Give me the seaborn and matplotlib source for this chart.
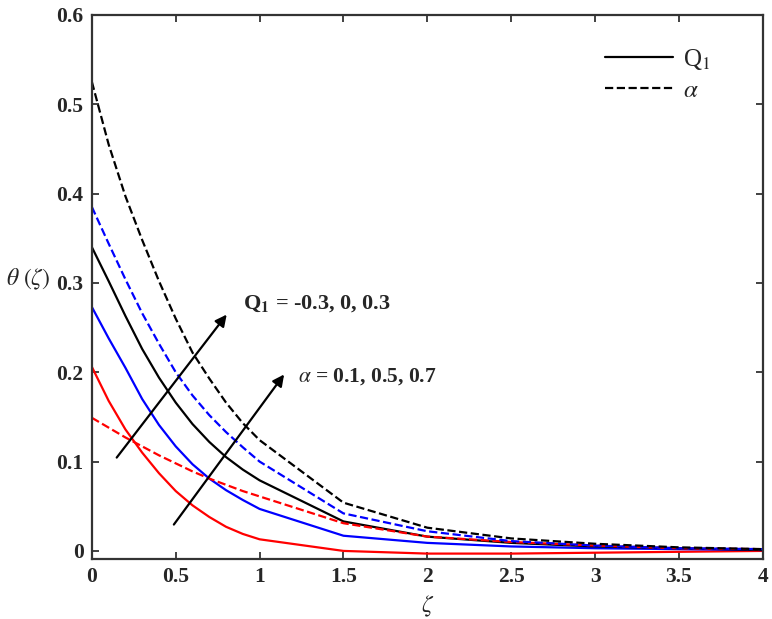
import numpy as np
import pandas as pd
import matplotlib
matplotlib.use('Agg')
import matplotlib.pyplot as plt
from matplotlib.lines import Line2D
import seaborn as sns

# zeta grid (fine up to 1, then coarse)
zeta = [0, 0.1, 0.2, 0.3, 0.4, 0.5, 0.6, 0.7, 0.8, 0.9, 1.0, 1.5, 2.0, 2.5, 3.0, 3.5, 4.0]

# Q1 curves (solid)
q1_red = [0.206, 0.168, 0.136, 0.110, 0.087, 0.067, 0.051, 0.038, 0.027, 0.019, 0.013,
          0.000, -0.003, -0.003, -0.002, -0.001, 0.000]
q1_blue = [0.273, 0.238, 0.205, 0.170, 0.141, 0.117, 0.097, 0.081, 0.068, 0.057, 0.047,
           0.017, 0.009, 0.005, 0.003, 0.002, 0.001]
q1_black = [0.340, 0.302, 0.263, 0.226, 0.194, 0.166, 0.142, 0.122, 0.105, 0.091, 0.079,
            0.033, 0.016, 0.009, 0.005, 0.003, 0.001]

# alpha curves (dashed)
al_red = [0.149, 0.138, 0.127, 0.117, 0.107, 0.098, 0.089, 0.081, 0.074, 0.067, 0.061,
          0.031, 0.016, 0.010, 0.006, 0.003, 0.002]
al_blue = [0.385, 0.344, 0.304, 0.266, 0.232, 0.200, 0.174, 0.152, 0.133, 0.116, 0.100,
           0.042, 0.022, 0.011, 0.006, 0.003, 0.002]
al_black = [0.525, 0.455, 0.397, 0.348, 0.302, 0.260, 0.222, 0.193, 0.166, 0.143, 0.124,
            0.054, 0.026, 0.014, 0.008, 0.004, 0.002]

xticks = [0, 0.5, 1, 1.5, 2, 2.5, 3, 3.5, 4]
xtick_labels = ['0', '0.5', '1', '1.5', '2', '2.5', '3', '3.5', '4']
yticks = [0, 0.1, 0.2, 0.3, 0.4, 0.5, 0.6]
ytick_labels = ['0', '0.1', '0.2', '0.3', '0.4', '0.5', '0.6']

sns.set_style('ticks')
plt.rcParams['font.family'] = ['Liberation Serif', 'DejaVu Serif']
plt.rcParams['mathtext.fontset'] = 'stix'

fig = plt.figure(figsize=(7.72, 6.19), dpi=100)
ax = fig.add_axes([0.119, 0.097, 0.869, 0.879])

curves = [
    (q1_red, 'red', '-'), (q1_blue, 'blue', '-'), (q1_black, 'black', '-'),
    (al_red, 'red', '--'), (al_blue, 'blue', '--'), (al_black, 'black', '--'),
]
for vals, col, ls in curves:
    sns.lineplot(x=zeta, y=vals, color=col, linestyle=ls, linewidth=1.6, ax=ax)

ax.set_xlim(0, 4)
ax.set_ylim(-0.009, 0.6)
ax.set_xticks(xticks)
ax.set_xticklabels(xtick_labels, fontsize=15.5, fontweight='bold')
ax.set_yticks(yticks)
ax.set_yticklabels(ytick_labels, fontsize=15.5, fontweight='bold')
ax.tick_params(direction='in', top=True, right=True, length=5, width=1.3,
               color='#333333', pad=6)
for s in ax.spines.values():
    s.set_linewidth(1.6)
    s.set_color('#333333')

ax.set_xlabel(r'$\zeta$', fontsize=17, labelpad=5)
ax.set_ylabel(r'$\theta\ (\zeta)$', fontsize=17, rotation=0)
ax.yaxis.set_label_coords(-0.095, 0.49)

# arrows and annotations
ax.annotate('', xy=(0.814, 0.267), xytext=(0.138, 0.102),
            arrowprops=dict(arrowstyle='-|>', color='black', lw=1.6, mutation_scale=17))
ax.annotate('', xy=(1.156, 0.200), xytext=(0.479, 0.027),
            arrowprops=dict(arrowstyle='-|>', color='black', lw=1.6, mutation_scale=17))
ax.text(0.90, 0.277, r'Q$_\mathbf{1}$ = -0.3, 0, 0.3', fontsize=16, fontweight='bold', va='center')
ax.text(1.23, 0.195, r'$\alpha$ = 0.1, 0.5, 0.7', fontsize=15.5, fontweight='bold', va='center')

handles = [Line2D([], [], color='black', linestyle='-', linewidth=1.6),
           Line2D([], [], color='black', linestyle='--', linewidth=1.6)]
ax.legend(handles, [r'Q$_1$', r'$\alpha$'], loc='upper left', frameon=False,
          fontsize=18, handlelength=2.7, handletextpad=0.4, labelspacing=0.3,
          bbox_to_anchor=(0.732, 0.983))

fig.savefig('out.png', dpi=100)
